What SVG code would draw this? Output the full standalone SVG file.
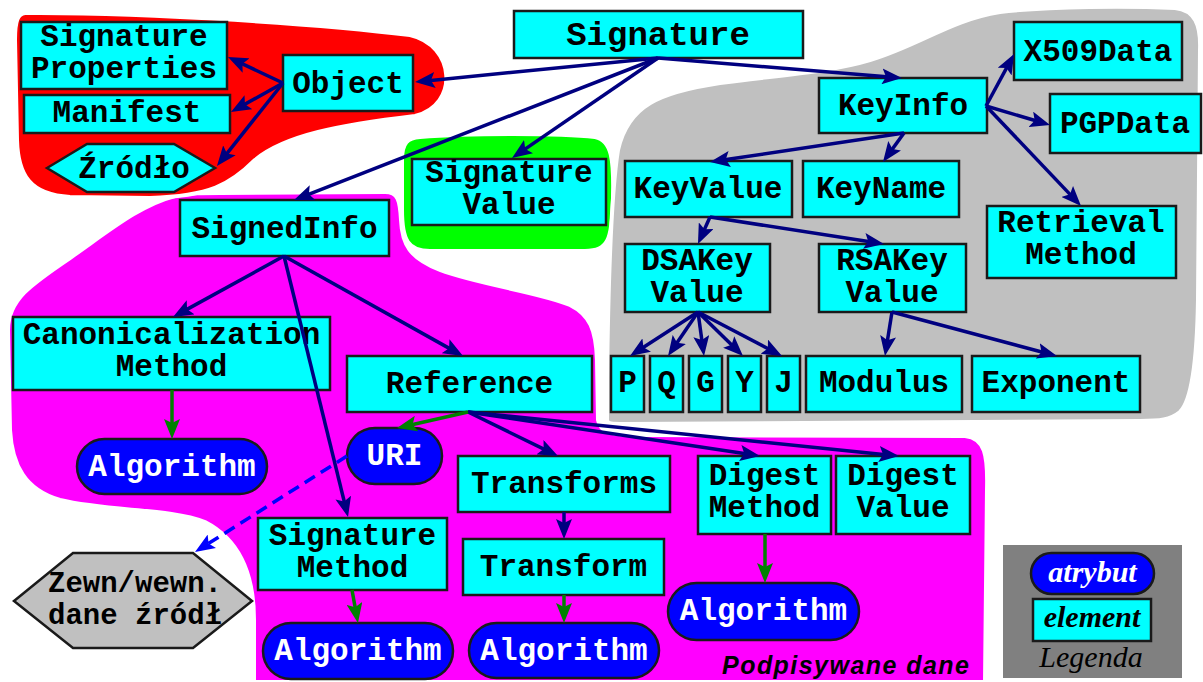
<svg xmlns="http://www.w3.org/2000/svg" width="1203" height="682" viewBox="0 0 1203 682">
<style>
.el{fill:#00ffff;stroke:#1a1a1a;stroke-width:2.5}
.at{fill:#0000ff;stroke:#1a1a1a;stroke-width:2.5}
.t{font-family:"Liberation Mono","Courier New",monospace;font-weight:bold;font-size:31px;text-anchor:middle;fill:#000}
.w{fill:#fff}
.c{fill:none;stroke:#000080;stroke-width:3.5}
.g{fill:none;stroke:#008000;stroke-width:3.5}
.b{fill:none;stroke:#0000ff;stroke-width:3.5;stroke-dasharray:12 7}
.reg{stroke:#fff;stroke-width:4}
</style>
<defs>
<marker id="an" viewBox="0 0 20 16" refX="14" refY="8" markerWidth="20" markerHeight="16" markerUnits="userSpaceOnUse" orient="auto"><path d="M0,0 L20,8 L0,16 L4,8 Z" fill="#000080"/></marker>
<marker id="ag" viewBox="0 0 20 16" refX="14" refY="8" markerWidth="20" markerHeight="16" markerUnits="userSpaceOnUse" orient="auto"><path d="M0,0 L20,8 L0,16 L4,8 Z" fill="#008000"/></marker>
<marker id="ab" viewBox="0 0 20 16" refX="14" refY="8" markerWidth="20" markerHeight="16" markerUnits="userSpaceOnUse" orient="auto"><path d="M0,0 L20,8 L0,16 L4,8 Z" fill="#0000ff"/></marker>
</defs>
<rect width="1203" height="682" fill="#fff"/>
<g id="regions">
<path class="reg" fill="#ff00ff" d="M 8,330 C 8,300 30,285 70,258 C 110,230 140,205 175,196 C 190,193 200,193 220,193 L 385,192 C 398,192 400,200 401,220 C 402,245 410,258 440,270 C 480,285 540,292 570,305 C 590,315 596,330 597,360 L 598,420 C 600,432 610,435 640,435 L 965,436 C 985,438 988,455 987,490 L 985,682 L 254,682 L 254,620 C 254,575 240,540 205,522 C 170,508 110,512 60,500 C 25,490 12,465 10,430 Z"/>
<path class="reg" fill="#ff0000" d="M 25,13 C 150,12 330,25 410,35 C 455,45 460,105 415,116 C 340,125 285,135 255,160 C 230,185 210,196 150,198 L 70,197 C 30,195 18,175 17,140 L 15,40 C 15,20 18,14 25,13 Z"/>
<path class="reg" fill="#00ff00" d="M 420,137 C 470,133 560,133 595,137 C 612,140 614,160 613,200 C 612,240 608,251 585,251 L 430,251 C 408,251 402,240 402,210 L 402,160 C 402,142 408,138 420,137 Z"/>
<path class="reg" fill="#c0c0c0" d="M 607,420 L 607,380 C 608,300 610,200 618,150 C 628,105 660,92 720,83 C 780,75 830,72 870,60 C 920,45 950,20 1000,12 C 1050,6 1130,6 1175,8 C 1195,10 1201,25 1200,50 L 1198,300 C 1197,360 1192,400 1180,412 C 1170,420 1160,421 1140,421 L 625,424 C 612,424 607,424 607,420 Z"/>
</g>
<g id="n-signature"><rect class="el" x="514" y="11" width="289" height="47"/><text class="t" x="658" y="45" style="font-size:34px">Signature</text></g>
<g id="n-object"><rect class="el" x="283" y="55" width="130" height="56"/><text class="t" x="348" y="93">Object</text></g>
<g id="n-sigprops"><rect class="el" x="21" y="22" width="206" height="67"/><text class="t" x="124" y="46">Signature</text><text class="t" x="124" y="78">Properties</text></g>
<g id="n-manifest"><rect class="el" x="24" y="95" width="206" height="38"/><text class="t" x="127" y="122">Manifest</text></g>
<g id="n-zrodlo"><polygon class="el" points="47,168 87,144 174,144 215,168 174,192 87,192"/><text class="t" x="134" y="178">Źródło</text></g>
<g id="n-sigvalue"><rect class="el" x="412" y="159" width="194" height="66"/><text class="t" x="509" y="182">Signature</text><text class="t" x="509" y="214">Value</text></g>
<g id="n-keyinfo"><rect class="el" x="819" y="78" width="168" height="55"/><text class="t" x="903" y="115">KeyInfo</text></g>
<g id="n-x509"><rect class="el" x="1014" y="22" width="168" height="58"/><text class="t" x="1098" y="61">X509Data</text></g>
<g id="n-pgp"><rect class="el" x="1050" y="94" width="151" height="59"/><text class="t" x="1125" y="133">PGPData</text></g>
<g id="n-keyvalue"><rect class="el" x="625" y="161" width="167" height="56"/><text class="t" x="708" y="198">KeyValue</text></g>
<g id="n-keyname"><rect class="el" x="803" y="161" width="156" height="56"/><text class="t" x="881" y="198">KeyName</text></g>
<g id="n-retrieval"><rect class="el" x="987" y="206" width="189" height="72"/><text class="t" x="1081" y="232">Retrieval</text><text class="t" x="1081" y="264">Method</text></g>
<g id="n-dsa"><rect class="el" x="625" y="244" width="145" height="68"/><text class="t" x="697" y="270">DSAKey</text><text class="t" x="697" y="302">Value</text></g>
<g id="n-rsa"><rect class="el" x="819" y="244" width="147" height="68"/><text class="t" x="892" y="270">RSAKey</text><text class="t" x="892" y="302">Value</text></g>
<g id="n-p"><rect class="el" x="611" y="356" width="33" height="56"/><text class="t" x="627.5" y="392">P</text></g>
<g id="n-q"><rect class="el" x="650" y="356" width="33" height="56"/><text class="t" x="666.5" y="392">Q</text></g>
<g id="n-g"><rect class="el" x="689" y="356" width="33" height="56"/><text class="t" x="705.5" y="392">G</text></g>
<g id="n-y"><rect class="el" x="728" y="356" width="33" height="56"/><text class="t" x="744.5" y="392">Y</text></g>
<g id="n-j"><rect class="el" x="767" y="356" width="33" height="56"/><text class="t" x="783.5" y="392">J</text></g>
<g id="n-modulus"><rect class="el" x="806" y="356" width="156" height="56"/><text class="t" x="884" y="392">Modulus</text></g>
<g id="n-exponent"><rect class="el" x="972" y="356" width="168" height="56"/><text class="t" x="1056" y="392">Exponent</text></g>
<g id="n-signedinfo"><rect class="el" x="180" y="200" width="209" height="56"/><text class="t" x="284.5" y="238">SignedInfo</text></g>
<g id="n-canon"><rect class="el" x="13" y="317" width="317" height="73"/><text class="t" x="171.5" y="344">Canonicalization</text><text class="t" x="171.5" y="376">Method</text></g>
<g id="n-reference"><rect class="el" x="347" y="356" width="245" height="56"/><text class="t" x="469.5" y="393">Reference</text></g>
<g id="n-uri"><rect class="at" x="347" y="428" width="95" height="56" rx="28"/><text class="t w" x="394.5" y="465">URI</text></g>
<g id="n-alg-canon"><rect class="at" x="77" y="439" width="190" height="55" rx="27.5"/><text class="t w" x="172" y="476">Algorithm</text></g>
<g id="n-transforms"><rect class="el" x="458" y="456" width="212" height="56"/><text class="t" x="564" y="493">Transforms</text></g>
<g id="n-transform"><rect class="el" x="463" y="539" width="201" height="56"/><text class="t" x="563.5" y="576">Transform</text></g>
<g id="n-alg-transform"><rect class="at" x="469" y="623" width="190" height="55" rx="27.5"/><text class="t w" x="564" y="660">Algorithm</text></g>
<g id="n-sigmethod"><rect class="el" x="258" y="518" width="189" height="72"/><text class="t" x="352.5" y="545">Signature</text><text class="t" x="352.5" y="577">Method</text></g>
<g id="n-alg-sig"><rect class="at" x="263" y="623" width="190" height="56" rx="28"/><text class="t w" x="358" y="660">Algorithm</text></g>
<g id="n-digestmethod"><rect class="el" x="698" y="456" width="133" height="78"/><text class="t" x="764.5" y="485">Digest</text><text class="t" x="764.5" y="517">Method</text></g>
<g id="n-digestvalue"><rect class="el" x="836" y="456" width="134" height="78"/><text class="t" x="903" y="485">Digest</text><text class="t" x="903" y="517">Value</text></g>
<g id="n-alg-digest"><rect class="at" x="668" y="583" width="191" height="57" rx="28.5"/><text class="t w" x="763.5" y="620">Algorithm</text></g>
<g id="n-zewn"><polygon points="14,601 73,553 193,553 252,601 193,648 73,648" fill="#c0c0c0" stroke="#1a1a1a" stroke-width="2.5"/><text class="t" x="135" y="592" style="font-size:29px">Zewn/wewn.</text><text class="t" x="135" y="624" style="font-size:29px">dane źródł</text></g>
<g id="label-podpisywane"><text x="969" y="674" text-anchor="end" font-family="'Liberation Sans',Arial,sans-serif" font-weight="bold" font-style="italic" font-size="25" textLength="247" lengthAdjust="spacing">Podpisywane dane</text></g>
<g id="legend">
<rect x="1003" y="545" width="179" height="133" fill="#808080"/>
<rect class="at" x="1031" y="553" width="123" height="41" rx="20.5"/>
<text x="1092.5" y="582" text-anchor="middle" font-family="'Liberation Serif','Times New Roman',serif" font-weight="bold" font-style="italic" font-size="30" fill="#fff">atrybut</text>
<rect class="el" x="1033" y="599" width="118" height="42"/>
<text x="1092" y="627" text-anchor="middle" font-family="'Liberation Serif','Times New Roman',serif" font-weight="bold" font-style="italic" font-size="30" fill="#000">element</text>
<text x="1091" y="667" text-anchor="middle" font-family="'Liberation Serif','Times New Roman',serif" font-style="italic" font-size="30" fill="#000">Legenda</text>
</g>
<g id="connectors">
<line class="c" marker-end="url(#an)" x1="658" y1="58" x2="421" y2="81.4"/>
<line class="c" marker-end="url(#an)" x1="658" y1="58" x2="299.6" y2="197.8"/>
<line class="c" marker-end="url(#an)" x1="658" y1="58" x2="517" y2="154.6"/>
<line class="c" marker-end="url(#an)" x1="658" y1="58" x2="896" y2="77.5"/>
<line class="c" marker-end="url(#an)" x1="283" y1="83" x2="233.4" y2="59.6"/>
<line class="c" marker-end="url(#an)" x1="283" y1="83" x2="236.2" y2="109.1"/>
<line class="c" marker-end="url(#an)" x1="283" y1="83" x2="220.7" y2="161.3"/>
<line class="c" marker-end="url(#an)" x1="986" y1="106" x2="1011.2" y2="59.3"/>
<line class="c" marker-end="url(#an)" x1="986" y1="106" x2="1044.3" y2="123.3"/>
<line class="c" marker-end="url(#an)" x1="986" y1="106" x2="1076.9" y2="201.6"/>
<line class="c" marker-end="url(#an)" x1="904" y1="133" x2="715.9" y2="161.1"/>
<line class="c" marker-end="url(#an)" x1="904" y1="133" x2="886.5" y2="157.1"/>
<line class="c" marker-end="url(#an)" x1="710" y1="217" x2="700.4" y2="238.5"/>
<line class="c" marker-end="url(#an)" x1="710" y1="217" x2="878.1" y2="243.1"/>
<line class="c" marker-end="url(#an)" x1="698" y1="312" x2="635" y2="352.7"/>
<line class="c" marker-end="url(#an)" x1="698" y1="312" x2="671.4" y2="351"/>
<line class="c" marker-end="url(#an)" x1="698" y1="312" x2="703.2" y2="350"/>
<line class="c" marker-end="url(#an)" x1="698" y1="312" x2="738.7" y2="351.8"/>
<line class="c" marker-end="url(#an)" x1="698" y1="312" x2="776.7" y2="353.2"/>
<line class="c" marker-end="url(#an)" x1="892" y1="312" x2="885.9" y2="350.1"/>
<line class="c" marker-end="url(#an)" x1="892" y1="312" x2="1051.2" y2="354.5"/>
<line class="c" marker-end="url(#an)" x1="284" y1="256" x2="178.3" y2="314.1"/>
<line class="c" marker-end="url(#an)" x1="284" y1="256" x2="346.6" y2="511.2"/>
<line class="c" marker-end="url(#an)" x1="284" y1="256" x2="457.8" y2="353.1"/>
<line class="c" marker-end="url(#an)" x1="468" y1="412" x2="552.6" y2="453.4"/>
<line class="c" marker-end="url(#an)" x1="468" y1="412" x2="754.1" y2="455.1"/>
<line class="c" marker-end="url(#an)" x1="468" y1="412" x2="893" y2="455.4"/>
<line class="c" marker-end="url(#an)" x1="564" y1="512" x2="564" y2="533"/>
<line class="g" marker-end="url(#ag)" x1="172" y1="390" x2="172" y2="433"/>
<line class="g" marker-end="url(#ag)" x1="468" y1="412" x2="402.9" y2="426.7"/>
<line class="g" marker-end="url(#ag)" x1="352" y1="590" x2="356.9" y2="617.1"/>
<line class="g" marker-end="url(#ag)" x1="564" y1="595" x2="564" y2="617"/>
<line class="g" marker-end="url(#ag)" x1="765" y1="534" x2="765" y2="577"/>
<line class="b" marker-end="url(#ab)" x1="347" y1="456" x2="200.1" y2="548.8"/>
</g>
</svg>
